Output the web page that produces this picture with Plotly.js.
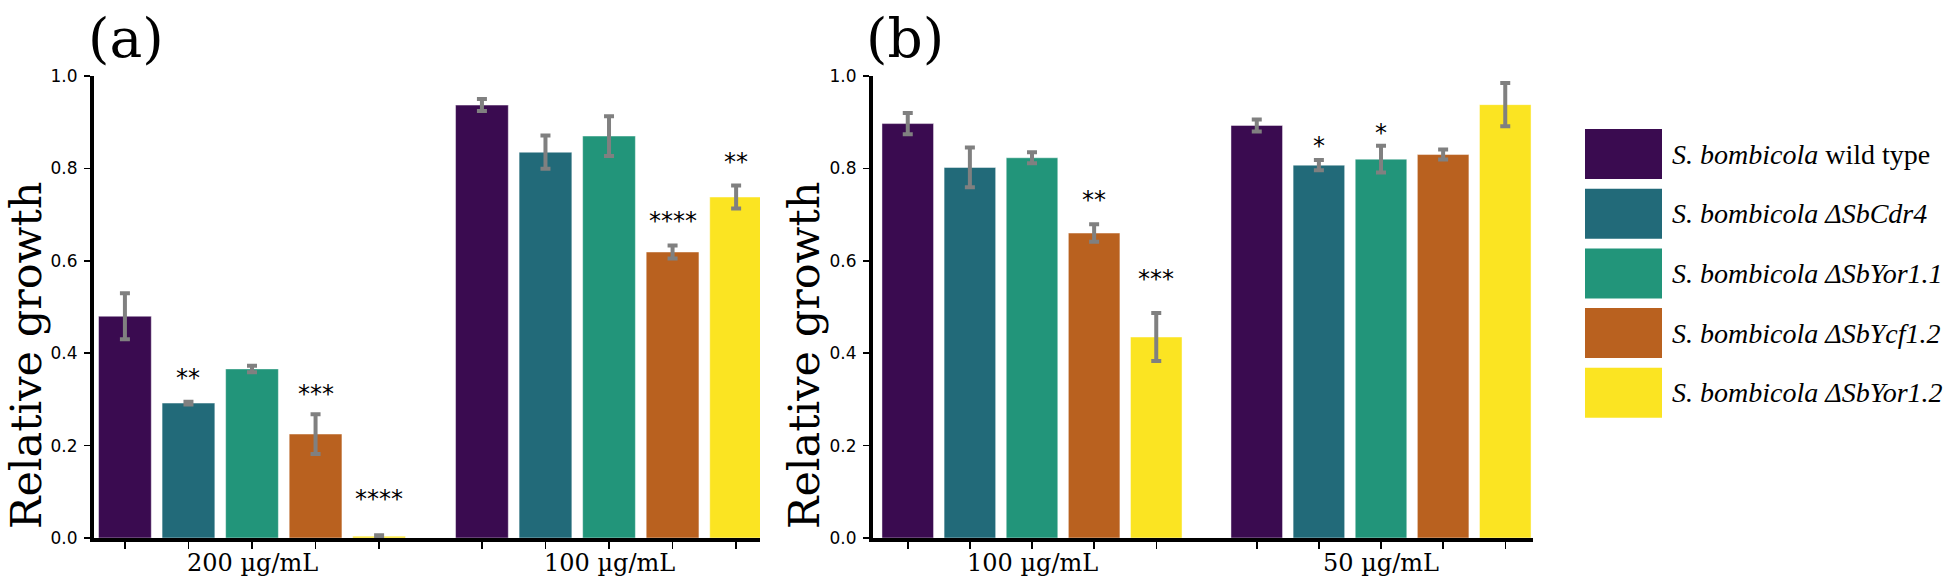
<!DOCTYPE html>
<html>
<head>
<meta charset="utf-8">
<script src="https://cdn.plot.ly/plotly-3.0.1.min.js"></script>
<style>html,body{margin:0;padding:0;background:#fff;}#chart{width:1951px;height:580px;}</style>
</head>
<body>
<div id="chart"></div>
<script>
// ---- data ----
const groupsA = ['200 µg/mL', '100 µg/mL'];
const groupsB = ['100 µg/mL', '50 µg/mL'];
const strainLabels = [
  '<i>S. bombicola</i> wild type',
  '<i>S. bombicola ΔSbCdr4</i>',
  '<i>S. bombicola ΔSbYor1.1</i>',
  '<i>S. bombicola ΔSbYcf1.2</i>',
  '<i>S. bombicola ΔSbYor1.2</i>'
];
const colors = ['#3a0b50', '#226a79', '#22957a', '#b9611f', '#fbe422'];

// panel (a): per strain, values for [200, 100 µg/mL]
const valA = [[0.480, 0.937], [0.292, 0.835], [0.366, 0.870], [0.225, 0.619], [0.004, 0.738]];
const errA = [[0.050, 0.013], [0.003, 0.036], [0.007, 0.043], [0.043, 0.014], [0.002, 0.025]];
const sigA = [['', ''], ['**', ''], ['', ''], ['***', '****'], ['****', '**']];
const sigYA = [[0, 0], [0.360, 0], [0, 0], [0.325, 0.700], [0.097, 0.827]];

// panel (b): per strain, values for [100, 50 µg/mL]
const valB = [[0.897, 0.893], [0.802, 0.807], [0.823, 0.820], [0.660, 0.830], [0.435, 0.938]];
const errB = [[0.023, 0.013], [0.043, 0.011], [0.012, 0.029], [0.019, 0.011], [0.052, 0.047]];
const sigB = [['', ''], ['', '*'], ['', '*'], ['**', ''], ['***', '']];
const sigYB = [[0, 0], [0, 0.861], [0, 0.890], [0.745, 0], [0.574, 0]];

const yTicks = [0, 0.2, 0.4, 0.6, 0.8, 1.0];

// ---- geometry / styles ----
const W = 1951, H = 580;
const bargap = 0.11, bargroupgap = 0.17;
const nS = strainLabels.length;
const slot = (1 - bargap) / nS;
const px = v => v / W;
const py = v => 1 - v / H;

const groupIdx = [0, 1];
const traces = [];
function addPanel(vals, errs, xa, ya) {
  for (let k = 0; k < nS; k++) {
    traces.push({
      type: 'bar', x: groupIdx, y: vals[k], xaxis: xa, yaxis: ya,
      name: strainLabels[k], showlegend: false,
      marker: {color: colors[k], line: {color: 'rgba(255,255,255,0.45)', width: 1}},
      error_y: {type: 'data', array: errs[k], visible: true, color: '#808080', thickness: 4, width: 5}
    });
  }
}
addPanel(valA, errA, 'x', 'y');
addPanel(valB, errB, 'x2', 'y2');

// tick marks at each bar centre
function tickVals(groups) {
  const vals = [];
  groups.forEach((g, gi) => {
    for (let k = 0; k < nS; k++) vals.push(gi + (k - (nS - 1) / 2) * slot);
  });
  return vals;
}

const annotations = [];
// group labels under each group
function addGroupLabels(groups, xref) {
  groups.forEach((g, gi) => {
    annotations.push({xref: xref, yref: 'paper', x: gi, y: py(563), text: g, showarrow: false,
      xanchor: 'center', yanchor: 'middle', font: {family: 'DejaVu Serif', size: 24, color: '#000'}});
  });
}
addGroupLabels(groupsA, 'x');
addGroupLabels(groupsB, 'x2');

function addSig(sig, sigY, xref, yref) {
  for (let k = 0; k < nS; k++) {
    for (let g = 0; g < 2; g++) {
      if (!sig[k][g]) continue;
      annotations.push({
        xref: xref, yref: yref, x: g + (k - (nS - 1) / 2) * slot, y: sigY[k][g],
        text: sig[k][g], showarrow: false, xanchor: 'center', yanchor: 'middle', yshift: -6,
        font: {family: 'DejaVu Sans', size: 24, color: '#000'}
      });
    }
  }
}
addSig(sigA, sigYA, 'x', 'y');
addSig(sigB, sigYB, 'x2', 'y2');

// panel letters
annotations.push({xref: 'paper', yref: 'paper', x: px(126), y: py(38), text: '(a)', showarrow: false,
  xanchor: 'center', yanchor: 'middle', font: {family: 'DejaVu Serif', size: 55, color: '#000'}});
annotations.push({xref: 'paper', yref: 'paper', x: px(905), y: py(38), text: '(b)', showarrow: false,
  xanchor: 'center', yanchor: 'middle', font: {family: 'DejaVu Serif', size: 55, color: '#000'}});

// y titles
annotations.push({xref: 'paper', yref: 'paper', x: px(26), y: py(356), text: 'Relative growth', showarrow: false,
  textangle: -90, xanchor: 'center', yanchor: 'middle', font: {family: 'DejaVu Serif', size: 43, color: '#000'}});
annotations.push({xref: 'paper', yref: 'paper', x: px(804), y: py(356), text: 'Relative growth', showarrow: false,
  textangle: -90, xanchor: 'center', yanchor: 'middle', font: {family: 'DejaVu Serif', size: 43, color: '#000'}});

// custom legend (large swatches)
const shapes = [];
const legTop = 129, legStep = 59.7, boxH = 50, boxL = 1585, boxR = 1662;
strainLabels.forEach((lab, k) => {
  const y0 = legTop + k * legStep;
  shapes.push({type: 'rect', xref: 'paper', yref: 'paper', x0: px(boxL), x1: px(boxR), y0: py(y0 + boxH), y1: py(y0),
    fillcolor: colors[k], line: {width: 0}});
  annotations.push({xref: 'paper', yref: 'paper', x: px(1670), y: py(y0 + boxH / 2), text: lab, showarrow: false,
    xanchor: 'left', yanchor: 'middle', font: {family: 'Liberation Serif', size: 28, color: '#000'}});
});

const yAxisBase = {
  range: [0, 1.0], domain: [42 / H, 504 / H], tickmode: 'array', tickvals: yTicks, tickformat: '.1f',
  showgrid: false, zeroline: false, showline: true, linecolor: '#000', linewidth: 4,
  ticks: 'outside', ticklen: 6, tickwidth: 1.5, tickcolor: '#000',
  tickfont: {family: 'DejaVu Sans', size: 17, color: '#000'}, ticklabelstandoff: 3
};
const xAxisBase = {
  showgrid: false, zeroline: false, showline: true, linecolor: '#000', linewidth: 4,
  ticks: 'outside', ticklen: 7, tickwidth: 1.5, tickcolor: '#000', tickmode: 'array', showticklabels: false
};

const layout = {
  width: W, height: H, margin: {l: 0, r: 0, t: 0, b: 0},
  paper_bgcolor: '#fff', plot_bgcolor: '#fff',
  barmode: 'group', bargap: bargap, bargroupgap: bargroupgap,
  showlegend: false,
  xaxis: Object.assign({}, xAxisBase, {domain: [94 / W, 760 / W], range: [-0.4426, 1.4229], anchor: 'y',
    tickvals: tickVals(groupsA)}),
  yaxis: Object.assign({}, yAxisBase, {anchor: 'x'}),
  xaxis2: Object.assign({}, xAxisBase, {domain: [873 / W, 1533 / W], range: [-0.4556, 1.4355], anchor: 'y2',
    tickvals: tickVals(groupsB)}),
  yaxis2: Object.assign({}, yAxisBase, {anchor: 'x2'}),
  annotations: annotations,
  shapes: shapes
};

Plotly.newPlot('chart', traces, layout, {displayModeBar: false, staticPlot: true});
</script>
</body>
</html>
